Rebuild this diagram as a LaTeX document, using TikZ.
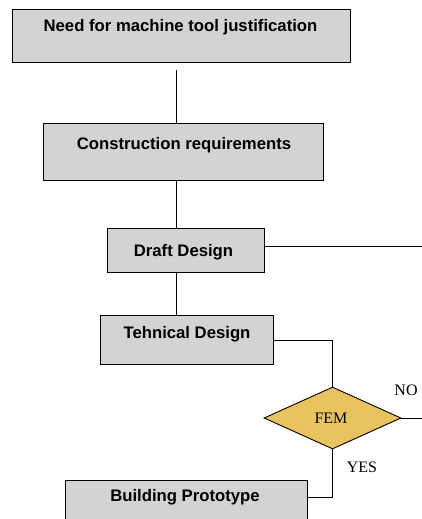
\documentclass[tikz,border=0pt]{standalone}
\usepackage{fontspec}
\setmainfont{Liberation Serif}
\setsansfont{Liberation Sans}
\usetikzlibrary{shapes.geometric}
\begin{document}
\begin{tikzpicture}[x=1pt,y=-1pt,
  box/.style={draw=black, line width=0.9pt, fill=boxgray, inner sep=0pt},
  lbl/.style={font=\sffamily\bfseries\fontsize{16.7}{19}\selectfont, inner sep=0pt},
  cond/.style={diamond, draw=black, line width=0.9pt, fill=femyellow, inner sep=0pt,
    minimum width=137pt, minimum height=62pt, aspect=2.21},
  ser/.style={font=\fontsize{16}{18}\selectfont, inner sep=0pt},
  conn/.style={line width=0.9pt}]
\definecolor{boxgray}{HTML}{D3D3D3}
\definecolor{femyellow}{HTML}{E9C45E}
\useasboundingbox (0,0) rectangle (422,519);
\clip (0,0) rectangle (422,519);
% boxes
\node[box, minimum width=338pt, minimum height=53pt] (n1) at (181,35.5) {};
\node[lbl] (t1) at (180.5,27) {Need for machine tool justification};
\node[box, minimum width=280pt, minimum height=57pt] (n2) at (183,151.5) {};
\node[lbl] (t2) at (184,145) {Construction requirements};
\node[box, minimum width=157pt, minimum height=44pt] (n3) at (185.5,250) {};
\node[lbl] (t3) at (183.5,252) {Draft Design};
\node[box, minimum width=173pt, minimum height=49pt] (n4) at (186.5,339.5) {};
\node[lbl] (t4) at (187,334) {Tehnical Design};
\node[cond] (fem) at (332.5,418) {};
\node[ser] (tf) at (331,418) {FEM};
\node[box, minimum width=242pt, minimum height=50pt] (n5) at (186,505) {};
\node[lbl] (t5) at (185,497) {Building Prototype};
% labels
\node[ser] (no) at (406,390) {NO};
\node[ser] (yes) at (362,467) {YES};
% coordinates
\coordinate (sp) at (176,0);
\coordinate (r1) at (422,246);
\coordinate (r2) at (422,418);
% connectors
\draw[conn] ([yshift=-8pt]n1.south -| sp) -- (n2.north -| sp);
\draw[conn] (n2.south -| sp) -- (n3.north -| sp);
\draw[conn] (n3.south -| sp) -- (n4.north -| sp);
\draw[conn] (n3.east |- r1) -- (r1);
\draw[conn] ([yshift=-0.5pt]n4.east) -- ([yshift=-0.5pt]n4.east -| fem.north) -- (fem.north);
\draw[conn] (fem.east) -- (r2);
\draw[conn] (fem.south) -- (fem.south |- t5) -- (n5.east |- t5);
\end{tikzpicture}
\end{document}
